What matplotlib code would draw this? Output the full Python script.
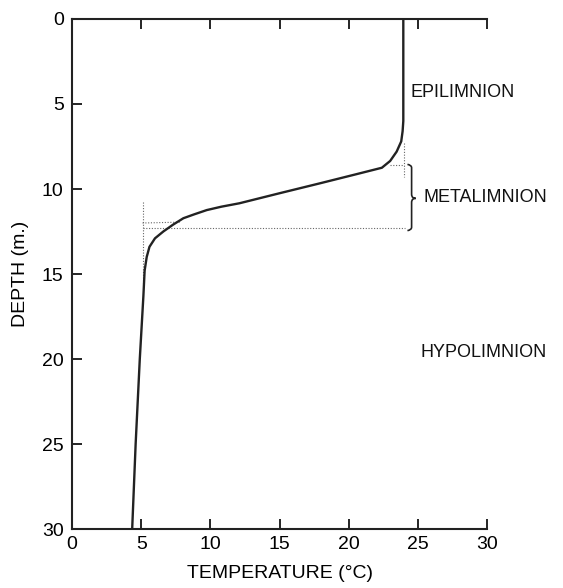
import matplotlib
matplotlib.use("Agg")
import matplotlib.pyplot as plt
from matplotlib.path import Path
from matplotlib.patches import PathPatch

plt.rcParams['font.family'] = ['Liberation Sans', 'DejaVu Sans']

# Temperature profile (depth in m, temperature in °C)
depth = [0, 3, 6.0, 6.6, 7.2, 7.8, 8.35, 8.75, 9.12, 9.67, 10.25, 10.84, 11.04, 11.24, 11.5,
         11.72, 12.1, 12.5, 12.9, 13.4, 14.0, 14.8, 16.3, 20, 25, 30]
temp = [23.95, 23.95, 23.95, 23.9, 23.8, 23.47, 23.0, 22.4, 20.6, 17.9, 15.0, 12.1, 10.8, 9.74,
        8.8, 8.05, 7.3, 6.6, 6.0, 5.6, 5.4, 5.25, 5.16, 4.9, 4.6, 4.35]

xticks = [0, 5, 10, 15, 20, 25, 30]
yticks = [0, 5, 10, 15, 20, 25, 30]
layer_names = ["EPILIMNION", "METALIMNION", "HYPOLIMNION"]

fig = plt.figure(figsize=(5.63, 5.88), dpi=100)
ax = fig.add_axes([0.1279, 0.1003, 0.865 - 0.1279, 0.9677 - 0.1003])

ax.plot(temp, depth, color='#222222', lw=1.7, solid_joinstyle='round', zorder=3)

dot_kw = dict(color='#666666', lw=0.8, ls=(0, (1, 1.5)), zorder=2)
# construction lines
ax.plot([5.1, 5.1], [10.75, 15.5], **dot_kw)
ax.plot([5.1, 24.1], [12.27, 12.27], **dot_kw)
ax.plot([5.1, 7.8], [12.0, 11.95], **dot_kw)
ax.plot([24.0, 24.0], [7.3, 9.3], **dot_kw)
ax.plot([23.0, 24.0], [8.6, 8.6], **dot_kw)

# curly brace for metalimnion
bx, top, bot, mid = 24.55, 8.6, 12.4, 10.55
verts = [(bx - 0.3, top - 0.05), (bx, top), (bx, top + 0.15),
         (bx, mid - 0.25),
         (bx, mid - 0.05), (bx + 0.15, mid), (bx + 0.3, mid),
         (bx + 0.15, mid), (bx, mid + 0.05), (bx, mid + 0.25),
         (bx, bot - 0.15),
         (bx, bot), (bx - 0.3, bot + 0.05)]
codes = [Path.MOVETO, Path.CURVE3, Path.CURVE3,
         Path.LINETO,
         Path.CURVE4, Path.CURVE4, Path.CURVE4,
         Path.CURVE4, Path.CURVE4, Path.CURVE4,
         Path.LINETO,
         Path.CURVE3, Path.CURVE3]
ax.add_patch(PathPatch(Path(verts, codes), fill=False, lw=1.2, ec='#222222', clip_on=False))

txt_kw = dict(fontsize=13, color='#111111', va='center', ha='left', clip_on=False)
ax.text(24.5, 4.3, layer_names[0], **txt_kw)
ax.text(25.4, 10.5, layer_names[1], **txt_kw)
ax.text(25.2, 19.6, layer_names[2], **txt_kw)

ax.set_xlim(0, 30)
ax.set_ylim(30, 0)
ax.set_xticks(xticks)
ax.set_yticks(yticks)
ax.tick_params(axis='x', direction='in', length=7, width=1.2, top=True, labelsize=14, pad=5)
ax.tick_params(axis='y', direction='in', length=7, width=1.2, labelsize=14, pad=6)
ax.spines['right'].set_visible(False)
for s in ['top', 'left', 'bottom']:
    ax.spines[s].set_linewidth(1.5)
    ax.spines[s].set_color('#222222')

ax.set_xlabel("TEMPERATURE (°C)", fontsize=14, labelpad=9)
ax.set_ylabel("DEPTH (m.)", fontsize=14, labelpad=9)

fig.savefig("out.png", dpi=100)
